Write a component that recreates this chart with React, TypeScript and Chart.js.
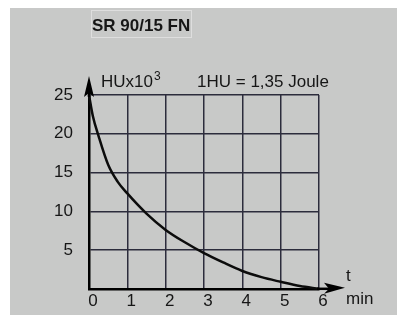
import React, { useEffect, useRef } from "react";
import { Chart, registerables } from "chart.js";

Chart.register(...registerables);

const title = "SR 90/15 FN";
const yUnitMain = "HUx10";
const yUnitSup = "3";
const note = "1HU = 1,35 Joule";
const xUnitTop = "t";
const xUnitBottom = "min";

const timeMin = [0, 0.1, 0.25, 0.5, 0.75, 1, 1.5, 2, 2.5, 3, 3.5, 4, 4.5, 5, 5.5, 6];
const heatUnits = [25, 22.3, 19.7, 16, 13.8, 12.3, 9.7, 7.6, 6, 4.6, 3.4, 2.3, 1.5, 0.9, 0.35, 0];

const FONT = "'Liberation Sans', Arial, sans-serif";
const INK = "#161616";
const GRID = "#2c2c3c";
const BG = "#c8c9c8";

const decor = {
  id: "decor",
  beforeDraw(chart: any) {
    const ctx = chart.ctx;
    ctx.save();
    ctx.fillStyle = "#ffffff";
    ctx.fillRect(0, 0, chart.width, chart.height);
    ctx.fillStyle = BG;
    ctx.fillRect(10, 8, chart.width - 10, chart.height - 8);
    ctx.strokeStyle = "#dedede";
    ctx.lineWidth = 1;
    ctx.strokeRect(91.5, 10.5, 100, 27);
    ctx.fillStyle = INK;
    ctx.font = `bold 17px ${FONT}`;
    ctx.textBaseline = "alphabetic";
    ctx.textAlign = "left";
    ctx.fillText(title, 92, 31);
    ctx.restore();
  },
  afterDraw(chart: any) {
    const ctx = chart.ctx;
    const { left, right, top, bottom } = chart.chartArea;
    ctx.save();
    ctx.fillStyle = "#000";
    ctx.strokeStyle = "#000";
    ctx.lineWidth = 2.5;
    ctx.beginPath();
    ctx.moveTo(left, top + 2);
    ctx.lineTo(left, top - 8);
    ctx.stroke();
    ctx.beginPath();
    ctx.moveTo(left, top - 19);
    ctx.lineTo(left - 5, top + 2);
    ctx.lineTo(left, top - 2);
    ctx.lineTo(left + 5, top + 2);
    ctx.closePath();
    ctx.fill();
    ctx.beginPath();
    ctx.moveTo(right - 2, bottom);
    ctx.lineTo(right + 10, bottom);
    ctx.stroke();
    ctx.beginPath();
    ctx.moveTo(right + 26, bottom - 1);
    ctx.lineTo(right + 5, bottom - 6);
    ctx.lineTo(right + 10, bottom);
    ctx.lineTo(right + 5, bottom + 5);
    ctx.closePath();
    ctx.fill();
    ctx.fillStyle = INK;
    ctx.textBaseline = "alphabetic";
    ctx.textAlign = "left";
    ctx.font = `17px ${FONT}`;
    ctx.fillText(yUnitMain, 101, 87);
    const w = ctx.measureText(yUnitMain).width;
    ctx.font = `12px ${FONT}`;
    ctx.fillText(yUnitSup, 101 + w + 1, 80);
    ctx.font = `17px ${FONT}`;
    ctx.fillText(note, 197, 87);
    ctx.fillText(xUnitTop, 346, 281);
    ctx.fillText(xUnitBottom, 346, 304);
    ctx.restore();
  },
};

export default function App() {
  const ref = useRef<HTMLCanvasElement | null>(null);
  useEffect(() => {
    if (!ref.current) return;
    const chart = new Chart(ref.current, {
      type: "line",
      data: {
        datasets: [
          {
            data: timeMin.map((t, i) => ({ x: t, y: heatUnits[i] })),
            borderColor: "#0c0c0c",
            borderWidth: 2.5,
            pointRadius: 0,
            cubicInterpolationMode: "monotone",
            fill: false,
            clip: false as any,
          },
        ],
      },
      options: {
        animation: false,
        responsive: false,
        maintainAspectRatio: false,
        events: [],
        layout: { padding: { left: 0, right: 78, top: 95, bottom: 0 } },
        plugins: { legend: { display: false }, tooltip: { enabled: false } },
        scales: {
          x: {
            type: "linear",
            min: 0,
            max: 6,
            afterFit: (s: any) => {
              s.height = 26;
            },
            grid: { color: GRID, lineWidth: 1.5, drawTicks: false },
            border: { color: "#000", width: 2.5 },
            ticks: {
              stepSize: 1,
              padding: 2,
              labelOffset: 4,
              color: INK,
              font: { family: FONT, size: 17 },
              maxRotation: 0,
            },
          },
          y: {
            type: "linear",
            min: 0,
            max: 25,
            afterFit: (s: any) => {
              s.width = 89;
            },
            grid: { color: GRID, lineWidth: 1.5, drawTicks: false },
            border: { color: "#000", width: 2.5 },
            ticks: {
              stepSize: 5,
              padding: 16,
              color: INK,
              font: { family: FONT, size: 17 },
              callback: (v: any) => (v === 0 ? "" : String(v)),
            },
          },
        },
      },
      plugins: [decor],
    });
    return () => chart.destroy();
  }, []);
  return (
    <div style={{ position: "fixed", left: 0, top: 0, width: 397, height: 315 }}>
      <canvas ref={ref} width={397} height={315} style={{ display: "block" }} />
    </div>
  );
}
